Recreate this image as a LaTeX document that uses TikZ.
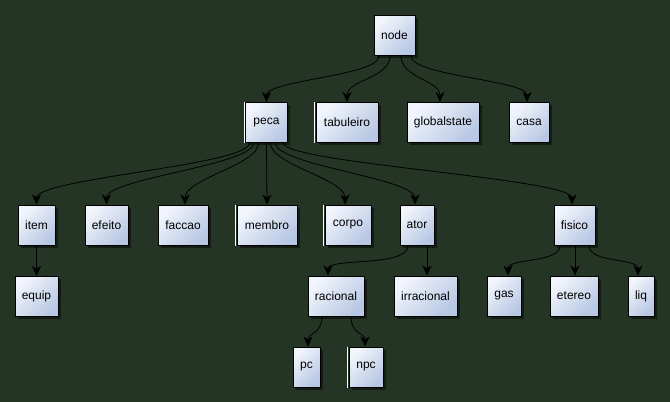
\documentclass[tikz,border=0pt]{standalone}
\usepackage{fontspec}
\setmainfont{Liberation Sans}
\usetikzlibrary{arrows.meta,shadows}
\definecolor{bg}{RGB}{37,53,37}
\definecolor{boxtop}{RGB}{242,245,252}
\definecolor{boxbot}{RGB}{184,200,228}
\tikzset{
  cls/.style={draw=black, line width=1pt, inner sep=0pt, minimum height=40pt,
    top color=boxtop, bottom color=boxbot, shading angle=45,
    drop shadow={shadow xshift=2.5pt, shadow yshift=-2.5pt, opacity=0.45, fill=black},
    font=\fontsize{12}{14}\selectfont},
  edge/.style={draw=black, line width=0.8pt, -{Stealth[length=10pt,width=9pt,inset=3pt]}},
  mark2/.style={draw=white, line width=1pt}
}
\newcommand{\lmark}[1]{\draw[mark2] ([xshift=-1pt]#1.north west) -- ([xshift=-1pt]#1.south west);}
\begin{document}
\begin{tikzpicture}[x=1pt,y=-1pt]
\fill[bg] (0,0) rectangle (670,402);
\useasboundingbox (0,0) rectangle (670,402);
\node[cls, minimum width=41pt] (node) at (394.5,35.5) {node};
\node[cls, minimum width=42pt] (peca) at (266.5,122.5) {peca};
\node[cls, minimum width=62pt] (tabuleiro) at (347,122.5) {tabuleiro};
\node[cls, minimum width=72pt] (globalstate) at (443,122.5) {globalstate};
\node[cls, minimum width=40pt] (casa) at (529,122.5) {casa};
\node[cls, minimum width=37pt] (item) at (36.5,225) {item};
\node[cls, minimum width=43pt] (efeito) at (106.5,225) {efeito};
\node[cls, minimum width=50pt] (faccao) at (183,225) {faccao};
\node[cls, minimum width=60pt] (membro) at (267,225) {membro};
\node[cls, minimum width=46pt] (corpo) at (348,225) {corpo};
\node[cls, minimum width=34pt] (ator) at (417,225) {ator};
\node[cls, minimum width=41pt] (fisico) at (574.5,225) {fisico};
\node[cls, minimum width=43pt] (equip) at (36.5,296.5) {equip};
\node[cls, minimum width=56pt] (racional) at (336,296) {racional};
\node[cls, minimum width=63pt] (irracional) at (425.5,296) {irracional};
\node[cls, minimum width=34pt] (gas) at (504,296) {gas};
\node[cls, minimum width=48pt] (etereo) at (574,296) {etereo};
\node[cls, minimum width=26pt] (liq) at (641,296) {liq};
\node[cls, minimum width=27pt] (pc) at (306.5,367) {pc};
\node[cls, minimum width=34pt] (npc) at (366,367) {npc};
\lmark{peca}\lmark{tabuleiro}\lmark{membro}\lmark{corpo}\lmark{npc}
% node children
\draw[edge] ([xshift=-15.5pt]node.south) .. controls +(0,20) and +(0,-22) .. ([xshift=0pt]peca.north);
\draw[edge] ([xshift=-4.5pt]node.south) .. controls +(0,22) and +(0,-22) .. ([xshift=0pt]tabuleiro.north);
\draw[edge] ([xshift=6.5pt]node.south) .. controls +(0,22) and +(0,-22) .. ([xshift=-3pt]globalstate.north);
\draw[edge] ([xshift=16.5pt]node.south) .. controls +(0,20) and +(0,-22) .. ([xshift=-2pt]casa.north);
% peca children
\draw[edge] ([xshift=-17pt]peca.south) .. controls +(0,22) and +(0,-26) .. (item.north);
\draw[edge] ([xshift=-13pt]peca.south) .. controls +(0,22) and +(0,-26) .. (efeito.north);
\draw[edge] ([xshift=-8pt]peca.south) .. controls +(0,22) and +(0,-26) .. ([xshift=2pt]faccao.north);
\draw[edge] ([xshift=0pt]peca.south) -- (membro.north);
\draw[edge] ([xshift=4pt]peca.south) .. controls +(0,22) and +(0,-26) .. ([xshift=-3pt]corpo.north);
\draw[edge] ([xshift=9pt]peca.south) .. controls +(0,22) and +(0,-26) .. ([xshift=-2pt]ator.north);
\draw[edge] ([xshift=17pt]peca.south) .. controls +(0,20) and +(0,-26) .. ([xshift=-2.5pt]fisico.north);
% others
\draw[edge] (item.south) -- (equip.north);
\draw[edge] ([xshift=-9pt]ator.south) .. controls +(0,22) and +(0,-18) .. ([xshift=-8pt]racional.north);
\draw[edge] ([xshift=10pt]ator.south) -- ([xshift=1.5pt]irracional.north);
\draw[edge] ([xshift=-14pt]racional.south) .. controls +(0,18) and +(0,-14) .. ([xshift=1.5pt]pc.north);
\draw[edge] ([xshift=15pt]racional.south) .. controls +(0,18) and +(0,-14) .. ([xshift=-1pt]npc.north);
\draw[edge] ([xshift=-14.5pt]fisico.south) .. controls +(0,18) and +(0,-18) .. ([xshift=4pt]gas.north);
\draw[edge] ([xshift=0.5pt]fisico.south) -- ([xshift=1pt]etereo.north);
\draw[edge] ([xshift=14.5pt]fisico.south) .. controls +(0,18) and +(0,-18) .. ([xshift=-3pt]liq.north);
\end{tikzpicture}
\end{document}
